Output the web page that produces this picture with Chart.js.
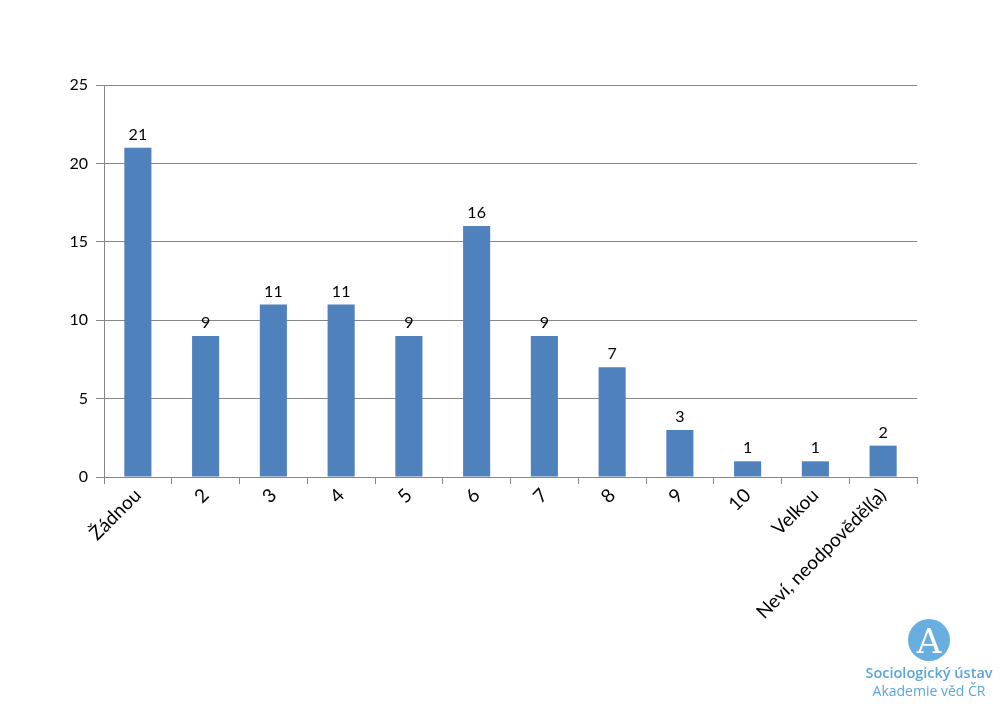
<!DOCTYPE html>
<html>
<head>
<meta charset="utf-8">
<script src="https://cdn.jsdelivr.net/npm/chart.js@4"></script>
<style>
  html, body { margin: 0; padding: 0; background: #fff; }
  #wrap { position: relative; width: 1000px; height: 707px; }
  #logo { position: absolute; left: 849px; top: 619px; width: 160px; text-align: center; font-family: "Open Sans", sans-serif; color: #5aa6da; }
  #logo .circ { width: 42px; height: 42px; border-radius: 50%; background: #68aee0; margin: 0 auto; color: #fff; font-family: "DejaVu Serif", serif; font-size: 34px; line-height: 44px; }
  #logo .l1 { font-size: 14.5px; font-weight: 600; margin-top: 3px; line-height: 18px; }
  #logo .l2 { font-size: 14px; line-height: 17px; }
</style>
</head>
<body>
<div id="wrap">
  <canvas id="chart" width="1000" height="707"></canvas>
  <div id="logo">
    <div class="circ">A</div>
    <div class="l1">Sociologický ústav</div>
    <div class="l2">Akademie věd ČR</div>
  </div>
</div>
<script>
const categories = ["Žádnou", "2", "3", "4", "5", "6", "7", "8", "9", "10", "Velkou", "Neví, neodpověděl(a)"];
const values = [21, 9, 11, 11, 9, 16, 9, 7, 3, 1, 1, 2];
const yTicks = [0, 5, 10, 15, 20, 25];

const font = { family: "Lato, 'Open Sans', sans-serif", size: 16 };
const xFont = { family: "Lato, 'Open Sans', sans-serif", size: 19 };

// value labels above each bar
const barLabels = {
  id: "barLabels",
  afterDatasetsDraw(chart) {
    const ctx = chart.ctx;
    const meta = chart.getDatasetMeta(0);
    ctx.save();
    ctx.font = font.size + "px " + font.family;
    ctx.fillStyle = "#000";
    ctx.textAlign = "center";
    ctx.textBaseline = "bottom";
    meta.data.forEach((bar, i) => {
      ctx.fillText(values[i], bar.x, bar.y - 5);
    });
    ctx.restore();
  },
};

const config = {
  type: "bar",
  data: {
    labels: categories,
    datasets: [
      {
        data: values,
        backgroundColor: "#4f81bd",
        barPercentage: 0.4,
        categoryPercentage: 1,
      },
    ],
  },
  options: {
    responsive: false,
    animation: false,
    layout: { padding: { left: 0, top: 85, right: 83, bottom: 0 } },
    plugins: {
      legend: { display: false },
      tooltip: { enabled: false },
    },
    scales: {
      x: {
        grid: {
          display: true,
          offset: true,
          drawOnChartArea: false,
          color: "#868686",
          tickLength: 7,
        },
        border: { color: "#868686" },
        ticks: {
          color: "#000",
          font: xFont,
          minRotation: 45,
          maxRotation: 45,
          padding: 0,
        },
        afterFit(scale) { scale.height = 230; },
      },
      y: {
        min: 0,
        max: 25,
        afterBuildTicks(scale) { scale.ticks = yTicks.map(v => ({ value: v })); },
        grid: { color: "#868686", tickLength: 8 },
        border: { color: "#868686" },
        ticks: { color: "#000", font: font, padding: 8 },
        afterFit(scale) { scale.width = 104; },
      },
    },
  },
  plugins: [barLabels],
};

const myChart = new Chart(document.getElementById("chart"), config);
</script>
</body>
</html>
